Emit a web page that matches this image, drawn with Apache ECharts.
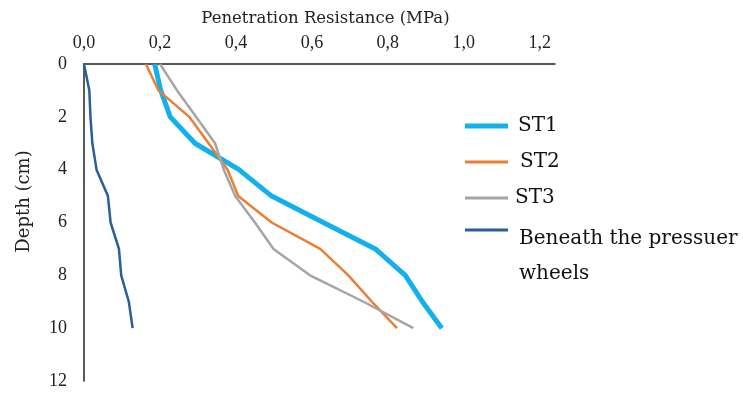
<!DOCTYPE html>
<html>
<head>
<meta charset="utf-8">
<script src="https://cdn.jsdelivr.net/npm/echarts@6/dist/echarts.min.js"></script>
<style>
html,body{margin:0;padding:0;background:#fff;}
#chart{width:743px;height:393px;}
</style>
</head>
<body>
<div id="chart"></div>
<script>
// depth of each reading (cm) and penetration resistance (MPa) per treatment
var depthCm = [0, 1, 2, 3, 4, 5, 6, 7, 8, 9, 10];
var st1 = [0.186, 0.202, 0.227, 0.292, 0.408, 0.494, 0.63, 0.767, 0.846, 0.891, 0.942];
var st2 = [0.163, 0.196, 0.277, 0.328, 0.378, 0.406, 0.494, 0.622, 0.696, 0.758, 0.824];
var st3 = [0.2, 0.245, 0.295, 0.345, 0.368, 0.398, 0.45, 0.499, 0.595, 0.736, 0.867];
var beneath = [0, 0.014, 0.017, 0.022, 0.033, 0.063, 0.07, 0.092, 0.098, 0.118, 0.128];
var seriesNames = ['ST1', 'ST2', 'ST3', 'Beneath the pressuer\nwheels'];
var seriesColors = ['#12B0EC', '#ED7D31', '#A5A5A5', '#2B5F9A'];

var tickFont = 'Liberation Serif';
var textFont = 'DejaVu Serif';

function pairs(vals) {   // [x, depth] points for a vertical profile
    var out = [];
    for (var i = 0; i < vals.length; i++) {
        out.push([vals[i], depthCm[i]]);
    }
    return out;
}

var myChart = echarts.init(document.getElementById('chart'));
var option = {
    animation: false,
    grid: {left: 84, top: 64, width: 471, bottom: 12},
    xAxis: {
        type: 'value',
        position: 'top',
        min: 0,
        max: 1.24,
        interval: 0.2,
        name: 'Penetration Resistance (MPa)',
        nameLocation: 'middle',
        nameGap: 37,
        nameTextStyle: {fontFamily: textFont, fontSize: 16.5, color: '#222', padding: [0, 0, 0, 12]},
        axisLine: {show: true, lineStyle: {color: '#222', width: 1.5}},
        axisTick: {show: false},
        splitLine: {show: false},
        axisLabel: {
            fontFamily: tickFont, fontSize: 18, color: '#222', margin: 12,
            formatter: function (v) {
                var k = Math.round(v / 0.2);
                if (Math.abs(v - k * 0.2) > 1e-6) return '';
                return v.toFixed(1).replace('.', ',');
            }
        }
    },
    yAxis: {
        type: 'value',
        inverse: true,
        min: 0,
        max: 12,
        interval: 2,
        name: 'Depth (cm)',
        nameLocation: 'middle',
        nameGap: 51,
        nameRotate: 90,
        nameTextStyle: {fontFamily: textFont, fontSize: 18, color: '#222', padding: [0, 0, 0, 42]},
        axisLine: {show: true, lineStyle: {color: '#222', width: 1.5}},
        axisTick: {show: false},
        splitLine: {show: false},
        axisLabel: {fontFamily: tickFont, fontSize: 18, color: '#222', margin: 17}
    },
    legend: [
        {
            orient: 'vertical',
            left: 460,
            top: 109,
            itemWidth: 43,
            itemHeight: 14,
            itemGap: 12,
            textStyle: {fontFamily: textFont, fontSize: 20, color: '#111', lineHeight: 24},
            data: [
                {name: seriesNames[0], icon: 'path://M0,0H43V5H0Z', textStyle: {padding: [0, 0, 0, 5]}},
                {name: seriesNames[1], icon: 'path://M0,0H43V3H0Z', textStyle: {padding: [0, 0, 0, 7]}},
                {name: seriesNames[2], icon: 'path://M0,0H43V3H0Z', textStyle: {padding: [0, 0, 0, 2]}}
            ]
        },
        {
            orient: 'vertical',
            left: 460,
            top: 185,
            itemWidth: 43,
            itemHeight: 14,
            textStyle: {
                fontFamily: textFont, fontSize: 20, color: '#111', padding: [0, 0, 0, 6],
                rich: {
                    s: {fontSize: 10, lineHeight: 53},
                    a: {fontFamily: textFont, fontSize: 20, color: '#111', lineHeight: 35}
                }
            },
            formatter: function (name) {   // blank line on top keeps the marker beside the first line
                var lines = name.split('\n');
                var out = '{s| }';
                for (var i = 0; i < lines.length; i++) {
                    out += '\n{a|' + lines[i] + '}';
                }
                return out;
            },
            data: [
                {name: seriesNames[3], icon: 'path://M0,0H43V3H0Z'}
            ]
        }
    ],
    series: [
        {name: seriesNames[0], type: 'line', symbol: 'none', data: pairs(st1),
            itemStyle: {color: seriesColors[0]}, lineStyle: {color: seriesColors[0], width: 5}},
        {name: seriesNames[1], type: 'line', symbol: 'none', data: pairs(st2),
            itemStyle: {color: seriesColors[1]}, lineStyle: {color: seriesColors[1], width: 2.5}},
        {name: seriesNames[2], type: 'line', symbol: 'none', data: pairs(st3),
            itemStyle: {color: seriesColors[2]}, lineStyle: {color: seriesColors[2], width: 2.5}},
        {name: seriesNames[3], type: 'line', symbol: 'none', data: pairs(beneath),
            itemStyle: {color: seriesColors[3]}, lineStyle: {color: seriesColors[3], width: 2.5}}
    ]
};
myChart.setOption(option);
window.addEventListener("resize", function () {
    myChart.resize();
});
</script>
</body>
</html>
